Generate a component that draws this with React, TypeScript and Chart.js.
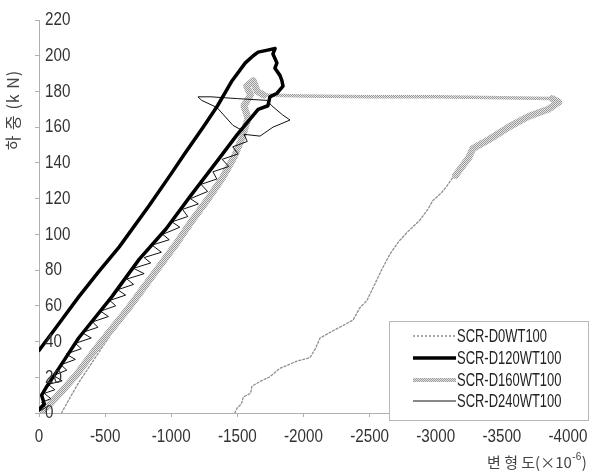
import { useEffect, useRef } from "react";
import { Chart, registerables } from "chart.js";

Chart.register(...registerables);

// Series names shown in the legend
const seriesNames = ["SCR-D0WT100", "SCR-D120WT100", "SCR-D160WT100", "SCR-D240WT100"];

// Axis ticks
const strainTicks = [0, -500, -1000, -1500, -2000, -2500, -3000, -3500, -4000];
const loadTicks = [0, 20, 40, 60, 80, 100, 120, 140, 160, 180, 200, 220];

// [strain (x10^-6), load (kN)] ; a null load breaks the line
const scrD0: [number, number | null][] = [
  [-170, 0], [-230, 8], [-300, 17], [-390, 27], [-480, 37], [-590, 49], [-700, 61], [-810, 72], [-920, 83], [-1040, 95],
  [-1040, null],
  [-1480, 0], [-1500, 3], [-1530, 5], [-1545, 9], [-1600, 11], [-1610, 15], [-1680, 18], [-1740, 20], [-1822, 25],
  [-1950, 29], [-2049, 31], [-2090, 36], [-2125, 42], [-2222, 46], [-2300, 49], [-2374, 52], [-2427, 59],
  [-2480, 63], [-2525, 70], [-2590, 80], [-2654, 89], [-2720, 96], [-2782, 101], [-2880, 108], [-2940, 114],
  [-2979, 119], [-3040, 123], [-3084, 127], [-3130, 132], [-3180, 138], [-3230, 143], [-3280, 148],
];

const scrD120: [number, number][] = [
  [0, 35], [-150, 50], [-300, 65], [-450, 79], [-607, 93], [-832, 116], [-1000, 134], [-1100, 145], [-1250, 161],
  [-1350, 172], [-1460, 186], [-1560, 196], [-1620, 200], [-1657, 202], [-1720, 203], [-1785, 204],
  [-1769, 201], [-1799, 196], [-1784, 193], [-1822, 189], [-1837, 186], [-1845, 183], [-1800, 179],
  [-1746, 177], [-1731, 172], [-1657, 170], [-1500, 156], [-1357, 142], [-1150, 122], [-960, 103],
  [-757, 86], [-550, 65], [-300, 42], [-150, 25], [-60, 15], [-20, 10], [-40, 5], [0, 2],
];

const scrD160: [number, number][] = [
  [0, 0], [-70, 4], [-170, 12], [-290, 22], [-420, 35], [-550, 47], [-680, 59], [-800, 71], [-920, 83],
  [-1040, 95], [-1160, 108], [-1280, 120], [-1390, 132], [-1480, 144], [-1540, 155], [-1580, 165],
  [-1550, 172], [-1600, 178], [-1570, 183], [-1620, 186], [-1650, 180], [-1700, 178], [-2000, 177.5],
  [-2500, 177], [-3000, 177], [-3500, 176.5], [-3880, 176], [-3930, 174], [-3850, 170], [-3700, 166],
  [-3550, 160], [-3400, 153], [-3280, 148], [-3250, 143], [-3200, 138], [-3150, 133],
];

const scrD240: [number, number][] = [
  [0, 1], [-50, 3], [-20, 6], [-90, 8], [-40, 11], [-120, 13], [-70, 16], [-175, 18], [-110, 21], [-210, 24],
  [-165, 27], [-275, 30], [-205, 33], [-320, 36], [-275, 39], [-395, 42], [-325, 45], [-445, 48], [-405, 51],
  [-525, 54], [-465, 57], [-580, 60], [-535, 63], [-655, 66], [-595, 69], [-715, 72], [-665, 75], [-795, 78],
  [-715, 81], [-845, 84], [-795, 87], [-925, 90], [-855, 94], [-985, 97], [-935, 100], [-1065, 104],
  [-1005, 107], [-1125, 110], [-1085, 114], [-1205, 117], [-1145, 120], [-1275, 124], [-1225, 128],
  [-1345, 131], [-1315, 135], [-1435, 138], [-1385, 142], [-1505, 145], [-1465, 149], [-1575, 152],
  [-1550, 156], [-1671, 155], [-1769, 160], [-1898, 164], [-1840, 167], [-1760, 172], [-1724, 175],
  [-1500, 176], [-1300, 177], [-1202, 177], [-1230, 175], [-1346, 171], [-1467, 161], [-1542, 158],
];

const LABEL_FONT = "'Liberation Sans', Arial, sans-serif";
const KOREAN_FONT = "'Noto Sans CJK KR', 'Liberation Sans', sans-serif";

function toPoints(rows: [number, number | null][]) {
  return rows.map(([x, y]) => ({ x, y }));
}

function makeHatch(): CanvasPattern | string {
  const c = document.createElement("canvas");
  c.width = 2;
  c.height = 2;
  const g = c.getContext("2d");
  if (!g) return "#b5b5b5";
  g.fillStyle = "#e4e4e4";
  g.fillRect(0, 0, 2, 2);
  g.fillStyle = "#9a9a9a";
  g.fillRect(0, 0, 1, 1);
  g.fillRect(1, 1, 1, 1);
  return g.createPattern(c, "repeat") || "#b5b5b5";
}

// Narrow label text: a regular sans squeezed horizontally
function narrowText(
  ctx: CanvasRenderingContext2D,
  text: string,
  x: number,
  y: number,
  size: number,
  squeeze: number,
  align: CanvasTextAlign,
) {
  ctx.save();
  ctx.translate(x, y);
  ctx.scale(squeeze, 1);
  ctx.font = `${size}px ${LABEL_FONT}`;
  ctx.textAlign = align;
  ctx.textBaseline = "middle";
  ctx.fillText(text, 0, 0);
  ctx.restore();
}

export default function App() {
  const ref = useRef<HTMLCanvasElement | null>(null);

  useEffect(() => {
    const canvas = ref.current;
    if (!canvas) return;
    const hatch = makeHatch();

    const styles = [
      { color: "#8f8f8f", width: 1.3, dash: [2, 2] as number[] },
      { color: "#000000", width: 3.5, dash: [] as number[] },
      { color: hatch, width: 5, dash: [] as number[] },
      { color: "#111111", width: 1, dash: [] as number[] },
    ];

    const overlay = {
      id: "overlay",
      afterDraw(chart: Chart) {
        const ctx = chart.ctx;
        const xs: any = chart.scales.x;
        const ys: any = chart.scales.y;

        // tick labels
        ctx.save();
        ctx.fillStyle = "#333";
        strainTicks.forEach((v) => {
          narrowText(ctx, String(v), xs.getPixelForValue(v), 437, 19, 0.8, "center");
        });
        loadTicks.forEach((v) => {
          narrowText(ctx, String(v), 45, ys.getPixelForValue(v), 19, 0.8, "left");
        });
        ctx.restore();

        // y-axis title
        ctx.save();
        ctx.fillStyle = "#444";
        ctx.font = `16px ${KOREAN_FONT}`;
        (ctx as any).letterSpacing = "1px";
        ctx.translate(13, 110);
        ctx.rotate(-Math.PI / 2);
        ctx.textAlign = "center";
        ctx.textBaseline = "middle";
        ctx.fillText("하 중 (k N)", 0, 0);
        ctx.restore();

        // x-axis title with superscript
        ctx.save();
        ctx.fillStyle = "#444";
        ctx.textBaseline = "alphabetic";
        ctx.textAlign = "left";
        ctx.font = `15px ${KOREAN_FONT}`;
        const main = "변 형 도(×10";
        let x = 487;
        const y = 468;
        ctx.fillText(main, x, y);
        x += ctx.measureText(main).width;
        ctx.font = `10px ${LABEL_FONT}`;
        ctx.fillText("-6", x + 0.5, y - 8);
        x += ctx.measureText("-6").width + 1;
        ctx.font = `15px ${KOREAN_FONT}`;
        ctx.fillText(")", x, y);
        ctx.restore();

        // legend box
        ctx.save();
        ctx.fillStyle = "#ffffff";
        ctx.strokeStyle = "#b8b8b8";
        ctx.lineWidth = 1;
        ctx.fillRect(389.5, 321.5, 199, 99);
        ctx.strokeRect(389.5, 321.5, 199, 99);
        const rows = [336, 358, 380, 401];
        seriesNames.forEach((name, i) => {
          const s = styles[i];
          ctx.beginPath();
          ctx.strokeStyle = s.color as any;
          ctx.lineWidth = i === 2 ? 4 : s.width;
          ctx.setLineDash(s.dash);
          ctx.moveTo(413, rows[i]);
          ctx.lineTo(456, rows[i]);
          ctx.stroke();
          ctx.setLineDash([]);
          ctx.fillStyle = "#222";
          narrowText(ctx, name, 457, rows[i] + 1, 18, 0.72, "left");
        });
        ctx.restore();
      },
    };

    const series = [scrD0, scrD120, scrD160, scrD240];
    const drawOrder = [4, 1, 3, 2];

    const chart = new Chart(canvas, {
      type: "scatter",
      data: {
        datasets: series.map((rows, i) => ({
          label: seriesNames[i],
          data: toPoints(rows),
          showLine: true,
          spanGaps: false,
          borderColor: styles[i].color as any,
          borderWidth: styles[i].width,
          borderDash: styles[i].dash,
          borderCapStyle: "round" as const,
          borderJoinStyle: "round" as const,
          pointRadius: 0,
          pointHoverRadius: 0,
          tension: 0,
          fill: false,
          order: drawOrder[i],
          segment:
            i === 2
              ? {
                  // the level run near the top is drawn narrower than the rising band
                  borderWidth: (c: any) =>
                    Math.abs(c.p0.parsed.y - c.p1.parsed.y) < 2 && Math.abs(c.p0.parsed.x - c.p1.parsed.x) > 200 ? 3.5 : 7,
                }
              : undefined,
        })),
      },
      options: {
        responsive: false,
        animation: false,
        events: [],
        layout: { padding: { top: 20, right: 29, left: 0, bottom: 0 } },
        plugins: {
          legend: { display: false },
          tooltip: { enabled: false },
        },
        scales: {
          x: {
            type: "linear",
            min: -4000,
            max: 0,
            reverse: true,
            afterBuildTicks: (scale: any) => {
              scale.ticks = strainTicks.map((v) => ({ value: v }));
            },
            afterFit: (scale: any) => {
              scale.height = 61;
            },
            ticks: { display: false },
            grid: { display: true, drawOnChartArea: false, drawTicks: true, tickLength: 4, color: "#b0b0b0" },
            border: { display: true, color: "#b0b0b0", width: 1 },
          },
          y: {
            type: "linear",
            min: 0,
            max: 220,
            afterBuildTicks: (scale: any) => {
              scale.ticks = loadTicks.map((v) => ({ value: v }));
            },
            afterFit: (scale: any) => {
              scale.width = 39;
            },
            ticks: { display: false },
            grid: { display: true, drawOnChartArea: false, drawTicks: true, tickLength: 4, color: "#b0b0b0" },
            border: { display: true, color: "#b0b0b0", width: 1 },
          },
        },
      },
      plugins: [overlay],
    });

    return () => chart.destroy();
  }, []);

  return (
    <div style={{ position: "fixed", left: 0, top: 0, width: 597, height: 474, background: "#fff" }}>
      <canvas ref={ref} width={597} height={474} style={{ display: "block", width: 597, height: 474 }} />
    </div>
  );
}
